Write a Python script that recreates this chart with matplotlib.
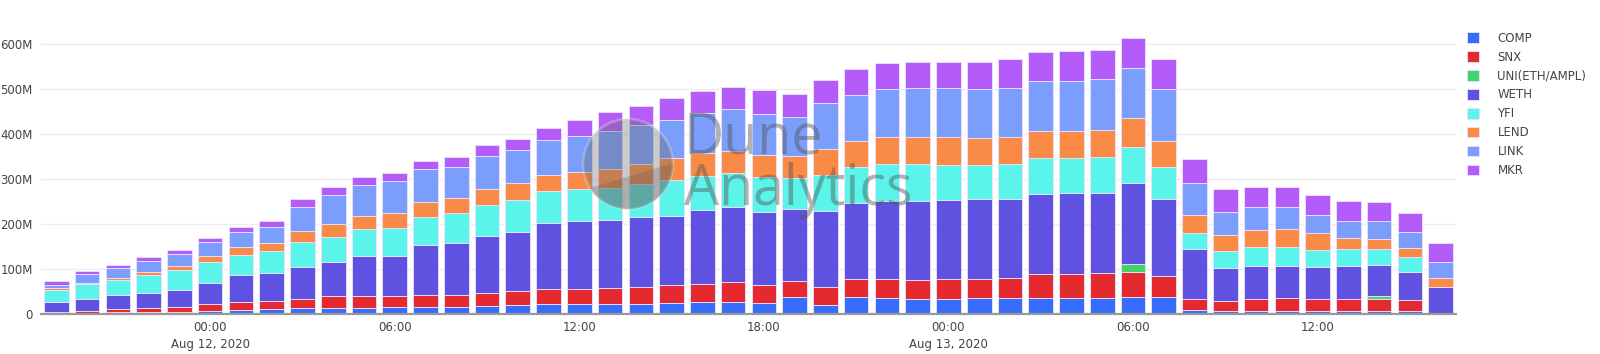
import numpy as np
import pandas as pd
import matplotlib
matplotlib.use("Agg")
import matplotlib.pyplot as plt
import matplotlib.dates as mdates
from matplotlib.patches import Circle, Polygon

# ---------------- data (millions USD) ----------------
hours = pd.date_range("2020-08-11 19:00", periods=46, freq="h")

COMP = [1, 2, 3.7, 4.4, 5, 7.4, 9.6, 10.4, 12.6, 14, 14, 14.8, 16.3, 16.3, 18.5, 19,
        22, 22, 23, 23, 25, 26.7, 26.7, 23.7, 37.8, 20, 37, 35.5, 33, 33, 34.8, 35.5,
        35.5, 35.5, 35.5, 38.5, 37, 9.6, 6.7, 6.7, 7.4, 6.7, 6.7, 6.7, 6, 0]
SNX = [3.5, 4.7, 7.3, 8.9, 11.3, 14.6, 17.1, 19.6, 21.4, 25, 26.7, 24.2, 25.7, 25.7, 28.2, 32,
       33, 33, 35.5, 37, 38.7, 40, 44.3, 40.7, 34.8, 39, 40, 42.3, 42.5, 44.8, 43, 43.5,
       53.5, 54.1, 55.5, 54.1, 46.7, 24.4, 21.3, 25.9, 27.4, 25.9, 25.9, 25.9, 24.4, 0]
UNI = [0] * 35 + [19.3] + [0] * 7 + [8.1] + [0, 0]
WETH = [22.9, 27.3, 32, 33.7, 36.7, 48, 59.3, 62, 70.4, 76, 88.9, 90.6, 111, 117, 127.3, 132,
        146.5, 151, 151.5, 155, 155.3, 164.3, 167.5, 162.6, 161.4, 170, 169, 174.2, 176.5, 176.2, 177.8, 177,
        177.7, 180, 178.6, 180.1, 172.3, 111, 75, 73.4, 71.2, 71.8, 73.4, 68.9, 62.2, 60]
YFI = [26.6, 32.7, 33, 39.7, 44, 45, 45, 48, 55.6, 57, 60, 61.4, 63, 65, 69, 71,
       71.1, 71.8, 70.7, 75, 79.5, 77, 74.1, 76.7, 68, 81, 81, 81, 80.6, 78, 75.4, 77,
       80, 77.1, 79.4, 80, 70, 35.7, 37.7, 43.6, 44, 38.6, 38.4, 34.8, 34.8, 0]
LEND = [3, 3.3, 4.7, 6.3, 9.7, 14, 17, 18, 25, 28, 28.9, 32.7, 33, 33, 36, 37,
        36.4, 37.2, 41.3, 44, 47.5, 49, 50.4, 50.3, 49, 57, 58, 61, 61.4, 61, 60, 61,
        60.3, 60.3, 61, 63, 59, 39.3, 35.3, 37.1, 38, 37, 23.6, 22.3, 18.6, 19]
LINK = [8, 19.6, 21.3, 25.5, 26.3, 32, 34, 36, 53.5, 65, 68.9, 72.3, 72.5, 70, 73, 73,
        77.7, 80, 85, 86, 85, 89.7, 94, 91, 86.8, 102, 103, 106.7, 109.7, 110, 110.5, 109.7,
        111.5, 112, 112, 112, 115, 72, 50.7, 51.1, 50.5, 40.7, 39.4, 40.7, 37, 36.6]
MKR = [7.6, 6, 7, 8.2, 9, 9, 10.6, 13, 16.5, 17, 17.6, 18, 18.5, 22, 23, 25,
       25.9, 36, 43, 43, 49, 49.3, 48, 53.5, 51.8, 52.5, 58, 57.8, 57.8, 58.5, 59.2, 63,
       65.2, 67, 65.4, 66, 66.7, 53, 50.3, 44.2, 44.5, 43.7, 44.4, 42.2, 41.4, 41.4]

series_names = ["COMP", "SNX", "UNI(ETH/AMPL)", "WETH", "YFI", "LEND", "LINK", "MKR"]
series_values = [COMP, SNX, UNI, WETH, YFI, LEND, LINK, MKR]
colors = ["#376dfb", "#e4292f", "#3fd46c", "#5f52e0", "#5bf4ea", "#f98b46", "#7b9dfb", "#b35cf9"]

y_ticks = [0, 100, 200, 300, 400, 500, 600]
y_tick_labels = ["0", "100M", "200M", "300M", "400M", "500M", "600M"]
x_tick_times = pd.to_datetime(["2020-08-12 00:00", "2020-08-12 06:00", "2020-08-12 12:00",
                               "2020-08-12 18:00", "2020-08-13 00:00", "2020-08-13 06:00",
                               "2020-08-13 12:00"])
x_tick_labels = ["00:00\nAug 12, 2020", "06:00", "12:00", "18:00",
                 "00:00\nAug 13, 2020", "06:00", "12:00"]

# ---------------- figure ----------------
W, H = 1600, 354
fig = plt.figure(figsize=(W / 100, H / 100), dpi=100)
ax_left, ax_right, ax_bottom, ax_top = 41, 1456, 314, 24
ax = fig.add_axes([ax_left / W, 1 - ax_bottom / H, (ax_right - ax_left) / W, (ax_bottom - ax_top) / H])

x = mdates.date2num(hours.to_pydatetime())
width = 0.8 / 24
bottom = np.zeros(len(hours))
for name, vals, c in zip(series_names, series_values, colors):
    v = np.array(vals, dtype=float)
    ax.bar(x, v, width=width, bottom=bottom, color=c, label=name,
           edgecolor=(0.93, 0.88, 1.0, 0.9), linewidth=0.7, zorder=2)
    bottom += v

ax.set_xlim(x[0] - 0.5 / 24, x[-1] + 0.5 / 24)
ax.set_ylim(0, 645)
ax.set_yticks(y_ticks)
ax.set_yticklabels(y_tick_labels)
ax.set_xticks(mdates.date2num(x_tick_times.to_pydatetime()))
ax.set_xticklabels(x_tick_labels, linespacing=1.45)
ax.grid(axis="y", color="#eeeeee", linewidth=1, zorder=0)
ax.set_axisbelow(True)
for s in ["top", "right", "left"]:
    ax.spines[s].set_visible(False)
ax.spines["bottom"].set_color("#999999")
ax.spines["bottom"].set_linewidth(1.6)
ax.spines["bottom"].set_zorder(3)
ax.tick_params(axis="both", length=0, labelsize=8.5, labelcolor="#444444",
               labelfontfamily="DejaVu Sans")
ax.tick_params(axis="x", pad=5)
ax.tick_params(axis="y", pad=6)

# legend
handles, labels = ax.get_legend_handles_labels()
leg = fig.legend(handles, labels, loc="upper left", bbox_to_anchor=(1462 / W, 1 - 27 / H),
                 frameon=False, fontsize=8.5, handlelength=1.0, handleheight=1.0,
                 handletextpad=1.6, labelspacing=0.5, borderaxespad=0)
for t in leg.get_texts():
    t.set_color("#444444")

# ---------------- watermark ----------------
def px(xp, yp):
    return (xp / 100, (H - yp) / 100)

tr = fig.dpi_scale_trans
cx, cy, r = 628, 164, 45
circ = Circle(px(cx, cy), r / 100, transform=tr, facecolor="#6b6b6b", alpha=0.35,
              edgecolor="#dddddd", linewidth=2, zorder=10)
fig.add_artist(circ)
poly_pts = []
x1, y1 = 588, 188
x2, y2 = 673, 163
for t in np.linspace(-0.3, np.pi + 0.3, 200):
    xx = cx + r * np.cos(t)
    yy = cy + r * np.sin(t)
    ly = y1 + (y2 - y1) * (xx - x1) / (x2 - x1)
    if yy >= ly:
        poly_pts.append(px(xx, yy))
poly_pts = [px(x2, y2)] + poly_pts[::-1] + [px(x1, y1)]
seg = Polygon(poly_pts, closed=True, transform=tr, facecolor="#555555", alpha=0.25,
              edgecolor="none", zorder=11)
fig.add_artist(seg)
fig.text(684 / W, 1 - 165 / H, "Dune\nAnalytics", fontsize=40, color="#555555", alpha=0.45,
         family="Open Sans", ha="left", va="center", linespacing=0.88, zorder=12)

fig.savefig("out.png", dpi=100, facecolor="white")
